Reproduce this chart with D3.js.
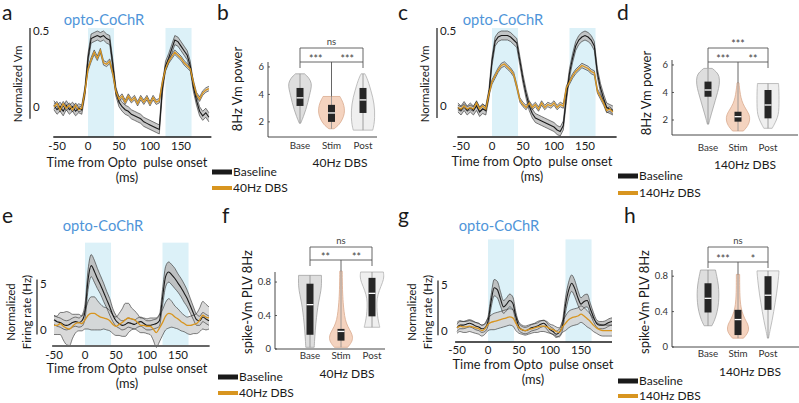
<!DOCTYPE html>
<html>
<head>
<meta charset="utf-8">
<script src="https://cdn.jsdelivr.net/npm/d3@7"></script>
<style>
  body { margin: 0; background: #fff; }
  svg { display: block; font-family: "Lato", "Liberation Sans", sans-serif; }
  text { white-space: pre; }
</style>
</head>
<body>
<svg id="fig" width="799" height="403"></svg>
<script>
// ---------- data ----------
const timeVm = [-55,-50,-45,-40,-35,-30,-25,-20,-15,-10,-5,0,5,10,15,20,25,30,35,40,45,50,55,60,65,70,75,80,85,90,95,100,105,110,115,120,125,130,135,140,145,150,155,160,165,170,175,180,185,190,195];
const timeFr = [-50,-45,-40,-35,-30,-25,-20,-15,-10,-5,0,5,10,15,20,25,30,35,40,45,50,55,60,65,70,75,80,85,90,95,100,105,110,115,120,125,130,135,140,145,150,155,160,165,170,175,180,185,190,195,200];
const pulses = [[0, 42], [125, 167]];
const timeTicks = [-50, 0, 50, 100, 150];

// a: Vm, 40Hz DBS
const aBase = [0.01,-0.02,0.00,-0.03,0.01,-0.02,0.00,-0.03,-0.01,-0.02,
  0.10,0.32,0.45,0.46,0.47,0.46,0.47,0.45,0.44,0.28,
  0.10,0.03,0.00,-0.02,-0.03,-0.05,-0.06,-0.07,-0.08,-0.10,
  -0.11,-0.12,-0.13,-0.14,-0.15,0.12,0.27,0.32,0.38,0.44,
  0.43,0.40,0.37,0.34,0.27,0.13,0.04,-0.03,-0.06,-0.04,-0.07];
const aDbs = [0.00,0.02,-0.02,0.02,-0.01,0.01,-0.02,0.01,-0.02,-0.01,
  0.10,0.25,0.31,0.36,0.32,0.37,0.29,0.28,0.30,0.22,
  0.10,0.05,0.07,0.03,0.07,0.04,0.06,0.02,0.06,0.03,
  0.06,0.02,0.06,0.03,0.04,0.16,0.25,0.30,0.33,0.36,
  0.34,0.32,0.29,0.27,0.25,0.16,0.08,0.05,0.09,0.11,0.12];
const aBaseSem = 0.03, aDbsSem = 0.015;

// c: Vm, 140Hz DBS
const cBase = [-0.01,-0.03,0.00,-0.03,-0.01,-0.03,0.00,-0.04,-0.02,-0.03,
  0.08,0.30,0.43,0.46,0.47,0.47,0.47,0.46,0.44,0.42,
  0.30,0.18,0.08,0.00,-0.05,-0.08,-0.09,-0.10,-0.11,-0.12,
  -0.13,-0.14,-0.16,-0.17,-0.13,0.06,0.22,0.32,0.40,0.44,
  0.46,0.47,0.46,0.44,0.40,0.22,0.12,0.05,-0.01,-0.02,-0.03];
const cDbs = [-0.01,-0.02,0.00,-0.02,-0.01,-0.02,0.02,-0.02,0.00,-0.02,
  0.08,0.16,0.20,0.24,0.27,0.28,0.26,0.24,0.21,0.13,
  0.04,0.01,-0.01,0.02,-0.01,0.01,-0.02,0.02,-0.01,0.01,
  0.00,0.02,-0.01,0.01,0.00,0.12,0.16,0.20,0.23,0.25,
  0.27,0.26,0.25,0.23,0.22,0.10,0.06,0.02,-0.03,-0.02,-0.04];
const cBaseSem = 0.03, cDbsSem = 0.015;

// e: firing rate, 40Hz DBS
const eBase = [1.1,0.9,0.8,0.6,0.5,0.6,0.8,0.9,0.8,1.0,
  2.0,5.5,7.0,6.4,5.6,4.9,4.1,3.3,2.5,1.6,
  1.0,0.7,0.5,0.6,0.8,0.7,0.6,0.8,0.9,0.7,
  0.5,0.5,0.6,0.7,1.0,3.5,5.8,6.3,6.0,5.6,
  5.1,4.6,4.0,3.4,2.6,1.8,1.1,1.0,1.4,1.2,1.0];
const eBaseSem = [0.5,0.5,0.5,0.5,0.5,0.5,0.5,0.5,0.5,0.6,
  0.8,1.1,1.2,1.2,1.1,1.0,1.0,0.9,0.9,0.7,
  0.6,0.5,0.5,0.5,0.5,0.5,0.5,0.5,0.5,0.5,
  0.5,0.5,0.5,0.5,0.6,0.9,1.1,1.1,1.1,1.1,
  1.0,1.0,1.0,0.9,0.8,0.7,0.6,0.5,0.5,0.5,0.5];
const eDbs = [0.5,0.5,0.7,0.4,0.2,0.1,0.4,0.7,0.8,0.7,
  1.1,1.6,1.8,1.8,1.6,1.4,1.3,1.2,1.0,0.6,
  0.4,0.6,0.8,1.1,1.3,1.2,1.1,0.8,0.5,0.5,
  0.4,0.4,0.1,-0.3,0.2,0.8,1.5,1.8,1.7,1.4,
  1.2,0.9,0.7,0.5,0.5,0.6,0.7,1.1,1.6,1.4,1.3];
const eDbsSem = [1.0,1.0,1.2,1.5,1.8,1.8,1.3,1.0,0.9,0.8,
  1.0,1.5,1.8,1.8,1.6,1.4,1.2,1.2,1.1,1.0,
  1.0,1.2,1.5,1.8,1.6,1.2,1.0,0.9,0.8,0.8,
  0.8,0.9,1.2,1.6,1.5,1.4,1.5,1.6,1.4,1.2,
  1.1,1.0,0.9,0.9,1.0,1.0,1.1,1.3,1.5,1.4,1.2];

// g: firing rate, 140Hz DBS
const gBase = [0.3,0.6,0.6,0.7,0.8,0.7,0.5,0.4,0.2,0.3,
  1.0,3.2,4.7,4.5,3.5,2.6,2.9,3.3,3.0,1.5,
  0.4,0.1,0.0,0.1,0.3,0.4,0.5,0.7,0.8,0.5,
  0.1,-0.1,-0.4,-0.2,0.5,2.8,4.4,5.2,4.6,3.6,
  2.9,3.2,3.3,2.4,1.5,0.8,0.6,0.6,0.7,0.9,1.0];
const gBaseSem = [0.4,0.4,0.4,0.4,0.4,0.4,0.4,0.4,0.4,0.4,
  0.5,0.7,0.9,0.9,0.8,0.7,0.7,0.7,0.7,0.5,
  0.4,0.35,0.35,0.35,0.35,0.35,0.35,0.35,0.35,0.35,
  0.35,0.35,0.35,0.35,0.5,0.8,0.9,0.9,0.9,0.8,
  0.7,0.7,0.7,0.6,0.5,0.4,0.4,0.4,0.4,0.4,0.4];
const gDbs = [0.3,0.5,0.4,0.4,0.5,0.4,0.3,0.2,0.0,0.2,
  0.7,0.9,1.0,1.1,1.2,1.3,1.4,1.5,1.4,0.8,
  0.3,0.1,0.0,0.1,0.2,0.3,0.4,0.5,0.5,0.4,
  0.2,0.1,-0.1,-0.2,0.4,0.8,1.2,1.4,1.5,1.6,
  1.8,1.6,1.3,1.0,0.6,0.3,0.1,0.0,0.0,0.0,0.0];
const gDbsSem = [0.6,0.6,0.6,0.6,0.6,0.6,0.6,0.6,0.6,0.6,
  0.7,0.8,0.9,0.9,0.9,0.9,0.9,0.9,0.9,0.8,
  0.6,0.5,0.5,0.5,0.5,0.5,0.6,0.6,0.6,0.6,
  0.5,0.5,0.5,0.5,0.6,0.8,0.9,0.9,0.9,0.9,
  0.9,0.9,0.9,0.8,0.7,0.6,0.6,0.6,0.6,0.6,0.6];

// violin panels: groups, density profiles [value, relative width], boxes [q1, median, q3]
const groups = ["Base", "Stim", "Post"];

const bViolinBase = [[1.9,0.05],[2.4,0.27],[2.9,0.45],[3.4,0.6],[3.9,0.72],[4.4,0.85],[4.8,0.9],[5.2,0.7],[5.5,0.35]];
const bViolinStim = [[1.5,0.2],[1.8,0.6],[2.2,0.85],[2.6,1.0],[3.0,1.0],[3.4,0.9],[3.85,0.65]];
const bViolinPost = [[1.4,0.75],[1.8,0.85],[2.3,0.9],[2.8,0.9],[3.3,0.85],[3.8,0.75],[4.3,0.6],[4.8,0.45],[5.2,0.3],[5.5,0.15]];
const bBox = [[3.16,3.75,4.47],[2.0,2.65,3.24],[2.65,3.6,4.47]];
const bStars = ["***", "***", "ns"];

const dViolinBase = [[1.7,0.05],[2.2,0.2],[2.8,0.4],[3.4,0.6],[4.0,0.8],[4.6,0.97],[5.2,0.95],[5.5,0.7],[5.75,0.35]];
const dViolinStim = [[1.2,0.45],[1.6,0.85],[2.0,1.0],[2.4,0.95],[2.8,0.65],[3.2,0.4],[3.6,0.25],[4.1,0.15],[4.7,0.08]];
const dViolinPost = [[1.4,0.35],[1.8,0.6],[2.2,0.8],[2.6,0.9],[3.2,0.92],[3.8,0.92],[4.3,0.9],[4.65,0.88]];
const dBox = [[3.69,4.18,4.79],[1.88,2.24,2.6],[2.12,3.09,4.18]];
const dStars = ["***", "**", "***"];

const fViolinBase = [[0.02,0.35],[0.15,0.4],[0.3,0.48],[0.45,0.6],[0.55,0.7],[0.65,0.85],[0.75,0.97],[0.88,0.95]];
const fViolinStim = [[0.02,0.55],[0.08,0.9],[0.14,1.0],[0.2,0.85],[0.27,0.55],[0.35,0.35],[0.45,0.25],[0.55,0.18],[0.7,0.12],[0.93,0.1]];
const fViolinPost = [[0.26,0.65],[0.32,0.55],[0.4,0.45],[0.5,0.4],[0.6,0.4],[0.7,0.6],[0.8,0.9],[0.86,1.0],[0.92,0.95]];
const fBox = [[0.17,0.53,0.78],[0.1,0.21,0.24],[0.39,0.665,0.85]];
const fStars = ["**", "**", "ns"];

const hViolinBase = [[0.24,0.35],[0.3,0.6],[0.4,0.85],[0.5,0.97],[0.6,1.0],[0.7,0.95],[0.8,0.8],[0.87,0.68]];
const hViolinStim = [[0.1,0.5],[0.15,0.85],[0.2,1.0],[0.26,0.9],[0.32,0.6],[0.4,0.35],[0.5,0.2],[0.65,0.15],[0.82,0.15]];
const hViolinPost = [[0.1,0.05],[0.2,0.2],[0.3,0.38],[0.4,0.52],[0.5,0.65],[0.6,0.78],[0.7,0.88],[0.8,0.97],[0.86,1.0]];
const hBox = [[0.39,0.55,0.72],[0.135,0.31,0.42],[0.42,0.585,0.8]];
const hStars = ["***", "*", "ns"];

// ---------- styles ----------
const ORANGE = "#d8951f";
const SHADE = "#dcf1f8";
const TITLE = "#4f95d9";
const INK = "#1a1a1a";
const violinFill = ["#dedede", "#f4d3bf", "#efefef"];
const violinStroke = ["#a3a3a3", "#d9ab8f", "#b0b0b0"];

const svg = d3.select("#fig");

function semAt(s, i) { return Array.isArray(s) ? s[i] : s; }

function txt(x, y, s, size, opts = {}) {
  const t = svg.append("text").attr("x", x).attr("y", y)
    .attr("font-size", size).attr("fill", opts.fill || INK)
    .attr("text-anchor", opts.anchor || "start").text(s);
  if (opts.rotate) t.attr("transform", `rotate(-90,${x},${y})`);
  return t;
}

function drawTime(p) {
  const x = d3.scaleLinear().domain([-50, 150]).range(p.xr);
  const y = d3.scaleLinear().domain(p.yDom).range(p.yr);
  const g = svg.append("g");
  const yBot = y(p.yDom[0]);

  // opto pulse shading
  g.selectAll("rect.pulse").data(pulses).join("rect")
    .attr("class", "pulse")
    .attr("x", d => x(d[0])).attr("width", d => x(d[1]) - x(d[0]))
    .attr("y", y(p.shadeTop)).attr("height", yBot - y(p.shadeTop))
    .attr("fill", SHADE);

  const series = [
    { v: p.base, s: p.baseSem, col: INK, fill: p.baseFill, w: 1.1 },
    { v: p.dbs, s: p.dbsSem, col: ORANGE, fill: p.dbsFill, w: 1.3 }
  ].map(se => ({ ...se, pts: p.t.map((t, i) => ({ t, m: se.v[i], s: semAt(se.s, i) })) }));

  // sem bands, their edges, then the means
  series.forEach(se => {
    g.append("path").datum(se.pts)
      .attr("d", d3.area().x(d => x(d.t)).y0(d => y(d.m - d.s)).y1(d => y(d.m + d.s)).curve(p.curve))
      .attr("fill", se.fill).attr("opacity", 0.85);
  });
  series.forEach(se => {
    [-1, 1].forEach(k => g.append("path").datum(se.pts)
      .attr("d", d3.line().x(d => x(d.t)).y(d => y(d.m + k * d.s)).curve(p.curve))
      .attr("fill", "none").attr("stroke", "#2a2a2a").attr("stroke-width", 0.6));
  });
  series.forEach(se => {
    g.append("path").datum(se.pts)
      .attr("d", d3.line().x(d => x(d.t)).y(d => y(d.m)).curve(p.curve))
      .attr("fill", "none").attr("stroke", se.col).attr("stroke-width", se.w);
  });

  // x axis line and tick labels
  g.append("line").attr("x1", x(p.xEnd[0])).attr("x2", x(p.xEnd[1]))
    .attr("y1", p.axisY).attr("y2", p.axisY)
    .attr("stroke", p.axisColor).attr("stroke-width", p.axisW);
  timeTicks.forEach(t => txt(x(t), p.tickY, String(t), 11.5, { anchor: "middle" }));

  // scale bar
  g.append("line").attr("x1", p.barX).attr("x2", p.barX)
    .attr("y1", y(p.bar[0])).attr("y2", y(p.bar[1]))
    .attr("stroke", INK).attr("stroke-width", 1.2);
  p.barTicks.forEach(v => txt(p.barX + 3, y(v) + 4, String(v), 11.5));

  // labels
  p.ylabel.forEach((s, i) => txt(p.ylabelX[i], p.ylabelY, s, 11.5, { anchor: "middle", rotate: true }));
  txt(p.titleX, p.titleY, "opto-CoChR", 14.7, { anchor: "middle", fill: TITLE });
  txt(p.xlabelX, p.xlabelY, "Time from Opto  pulse onset", 12.8, { anchor: "middle" });
  txt(p.xlabelX, p.msY, "(ms)", 12.8, { anchor: "middle" });
}

function drawViolin(p) {
  const x = d3.scalePoint().domain(groups).range(p.cr);
  const y = d3.scaleLinear().domain(p.yDom).range([p.yBot, p.yTop]);
  const w = d3.scaleLinear().domain([0, 1]).range([0, p.half]);
  const g = svg.append("g");

  // axes
  g.append("line").attr("x1", p.ax).attr("x2", p.ax).attr("y1", p.yTop).attr("y2", p.yBot)
    .attr("stroke", "#333").attr("stroke-width", 0.9);
  g.append("line").attr("x1", p.ax).attr("x2", p.axEnd).attr("y1", p.yBot).attr("y2", p.yBot)
    .attr("stroke", "#333").attr("stroke-width", 0.9);
  p.yTicks.forEach(v => {
    g.append("line").attr("x1", p.ax).attr("x2", p.ax + 2).attr("y1", y(v)).attr("y2", y(v))
      .attr("stroke", "#333").attr("stroke-width", 0.8);
    txt(p.ax - 4, y(v) + 3.3, String(v), 9.5, { anchor: "end", fill: "#333" });
  });
  groups.forEach(c => txt(x(c), p.catY, c, 9.8, { anchor: "middle", fill: "#333" }));

  // violins with whisker line, box and median
  p.violins.forEach((prof, i) => {
    const cx = x(groups[i]);
    g.append("path").datum(prof)
      .attr("d", d3.area().y(d => y(d[0])).x0(d => cx - w(d[1])).x1(d => cx + w(d[1])).curve(d3.curveBasis))
      .attr("fill", violinFill[i]).attr("stroke", violinStroke[i]).attr("stroke-width", 0.8);
    const ext = d3.extent(prof, d => d[0]);
    g.append("line").attr("x1", cx).attr("x2", cx).attr("y1", y(ext[0])).attr("y2", y(ext[1]))
      .attr("stroke", "#8a8a8a").attr("stroke-width", 0.8);
    const [q1, med, q3] = p.box[i];
    g.append("rect").attr("x", cx - 3.5).attr("width", 7)
      .attr("y", y(q3)).attr("height", y(q1) - y(q3)).attr("fill", "#262626");
    g.append("line").attr("x1", cx - 3.5).attr("x2", cx + 3.5).attr("y1", y(med)).attr("y2", y(med))
      .attr("stroke", "#fff").attr("stroke-width", 1.3);
  });

  // significance brackets
  const xb = x("Base"), xs = x("Stim"), xp = x("Post");
  const stimTop = y(d3.max(p.violins[1], d => d[0]));
  const br = g.append("g").attr("fill", "none").attr("stroke", "#555").attr("stroke-width", 0.9);
  br.append("path").attr("d", `M${xb},${p.yL}V${p.yU}H${xp}V${p.yL}`);
  br.append("path").attr("d", `M${xb},${p.yL + 6}V${p.yL}H${xp}V${p.yL + 6}`);
  br.append("path").attr("d", `M${xs},${p.yL}V${stimTop}`);
  const lab = (cx, cy, s) => s === "ns"
    ? txt(cx, cy + 2.5, s, 9.5, { anchor: "middle", fill: "#444" })
    : txt(cx, cy + 5.5, s, 10.5, { anchor: "middle", fill: "#444" });
  lab((xb + xs) / 2, p.yL - 5, p.stars[0]);
  lab((xs + xp) / 2, p.yL - 5, p.stars[1]);
  lab((xb + xp) / 2, p.yU - 6, p.stars[2]);

  txt(p.ylabelX, p.ylabelY, p.ylabel, 13, { anchor: "middle", rotate: true });
  txt(p.xlabelX, p.xlabelY, p.xlabel, 12, { anchor: "middle" });
}

function drawLegend(p) {
  [["Baseline", INK, 5], [p.dbs, ORANGE, 4]].forEach(([s, col, h], i) => {
    const yy = p.y[i];
    svg.append("rect").attr("x", p.x).attr("y", yy - h / 2).attr("width", 20).attr("height", h).attr("fill", col);
    txt(p.x + 21, yy + 4.2, s, 12);
  });
}

// ---------- layout ----------
drawTime({ t: timeVm, base: aBase, baseSem: aBaseSem, dbs: aDbs, dbsSem: aDbsSem,
  baseFill: "#bdbdbd", dbsFill: "#c9c9c9", curve: d3.curveLinear,
  xr: [57, 181], yDom: [-0.2, 0.5], yr: [137, 31], shadeTop: 0.52, xEnd: [-56, 199],
  axisY: 137, axisColor: INK, axisW: 1.4, tickY: 150,
  barX: 30, bar: [-0.08, 0.52], barTicks: [0, 0.5],
  ylabel: ["Normalized Vm"], ylabelX: [22], ylabelY: 84,
  titleX: 104, titleY: 25, xlabelX: 127, xlabelY: 167, msY: 182 });

drawTime({ t: timeVm, base: cBase, baseSem: cBaseSem, dbs: cDbs, dbsSem: cDbsSem,
  baseFill: "#bdbdbd", dbsFill: "#c9c9c9", curve: d3.curveLinear,
  xr: [461, 585], yDom: [-0.2, 0.5], yr: [136, 31], shadeTop: 0.52, xEnd: [-56, 201],
  axisY: 137, axisColor: INK, axisW: 1.4, tickY: 150,
  barX: 437, bar: [-0.08, 0.52], barTicks: [0, 0.5],
  ylabel: ["Normalized Vm"], ylabelX: [429], ylabelY: 84,
  titleX: 503, titleY: 25, xlabelX: 532, xlabelY: 166, msY: 181 });

drawTime({ t: timeFr, base: eBase, baseSem: eBaseSem, dbs: eDbs, dbsSem: eDbsSem,
  baseFill: "#b8b8b8", dbsFill: "#d2d2d2", curve: d3.curveMonotoneX,
  xr: [54, 178], yDom: [-1.75, 5], yr: [346, 284], shadeTop: 9.5, xEnd: [-53, 201],
  axisY: 346, axisColor: "#666", axisW: 2.2, tickY: 359,
  barX: 37, bar: [-0.5, 5.5], barTicks: [0, 5],
  ylabel: ["Normalized", "Firing rate (Hz)"], ylabelX: [15, 31], ylabelY: 312,
  titleX: 103, titleY: 231, xlabelX: 127, xlabelY: 373, msY: 388 });

drawTime({ t: timeFr, base: gBase, baseSem: gBaseSem, dbs: gDbs, dbsSem: gDbsSem,
  baseFill: "#b8b8b8", dbsFill: "#d2d2d2", curve: d3.curveMonotoneX,
  xr: [457, 581], yDom: [-1.25, 5], yr: [342, 285], shadeTop: 10, xEnd: [-53, 200],
  axisY: 342, axisColor: INK, axisW: 1.4, tickY: 354,
  barX: 438, bar: [-0.5, 5.5], barTicks: [0, 5],
  ylabel: ["Normalized", "Firing rate (Hz)"], ylabelX: [416, 432], ylabelY: 312,
  titleX: 499, titleY: 231, xlabelX: 533, xlabelY: 369, msY: 384 });

drawViolin({ violins: [bViolinBase, bViolinStim, bViolinPost], box: bBox, stars: bStars,
  ax: 268, axEnd: 377, yTop: 62, yBot: 137, yDom: [0.9, 6.36], yTicks: [2, 4, 6],
  cr: [300, 363], half: 13, catY: 149, yU: 48, yL: 62,
  ylabel: "8Hz Vm power", ylabelX: 242, ylabelY: 89, xlabel: "40Hz DBS", xlabelX: 340, xlabelY: 167 });

drawViolin({ violins: [dViolinBase, dViolinStim, dViolinPost], box: dBox, stars: dStars,
  ax: 672, axEnd: 798, yTop: 60, yBot: 135, yDom: [0.91, 6.36], yTicks: [2, 4, 6],
  cr: [708, 768], half: 12, catY: 151, yU: 48, yL: 62,
  ylabel: "8Hz Vm power", ylabelX: 651, ylabelY: 93, xlabel: "140Hz DBS", xlabelX: 745, xlabelY: 169 });

drawViolin({ violins: [fViolinBase, fViolinStim, fViolinPost], box: fBox, stars: fStars,
  ax: 275, axEnd: 385, yTop: 272, yBot: 349, yDom: [0, 0.92], yTicks: [0, 0.4, 0.8],
  cr: [310, 372], half: 12, catY: 359, yU: 247, yL: 260,
  ylabel: "spike-Vm PLV 8Hz", ylabelX: 252, ylabelY: 302, xlabel: "40Hz DBS", xlabelX: 347, xlabelY: 378 });

drawViolin({ violins: [hViolinBase, hViolinStim, hViolinPost], box: hBox, stars: hStars,
  ax: 672, axEnd: 799, yTop: 270, yBot: 347, yDom: [0, 0.87], yTicks: [0, 0.4, 0.8],
  cr: [708, 768], half: 11, catY: 357, yU: 247, yL: 262,
  ylabel: "spike-Vm PLV 8Hz", ylabelX: 649, ylabelY: 302, xlabel: "140Hz DBS", xlabelX: 750, xlabelY: 376 });

drawLegend({ x: 212, y: [172, 188], dbs: "40Hz DBS" });
drawLegend({ x: 618, y: [176, 193], dbs: "140Hz DBS" });
drawLegend({ x: 218, y: [377, 393], dbs: "40Hz DBS" });
drawLegend({ x: 618, y: [381, 396], dbs: "140Hz DBS" });

// panel letters
[["a", 2, 20], ["b", 217, 20], ["c", 398, 20], ["d", 617, 20],
 ["e", 2, 223], ["f", 222, 223], ["g", 398, 223], ["h", 624, 223]]
  .forEach(([s, x, y]) => txt(x, y, s, 21));
</script>
</body>
</html>
